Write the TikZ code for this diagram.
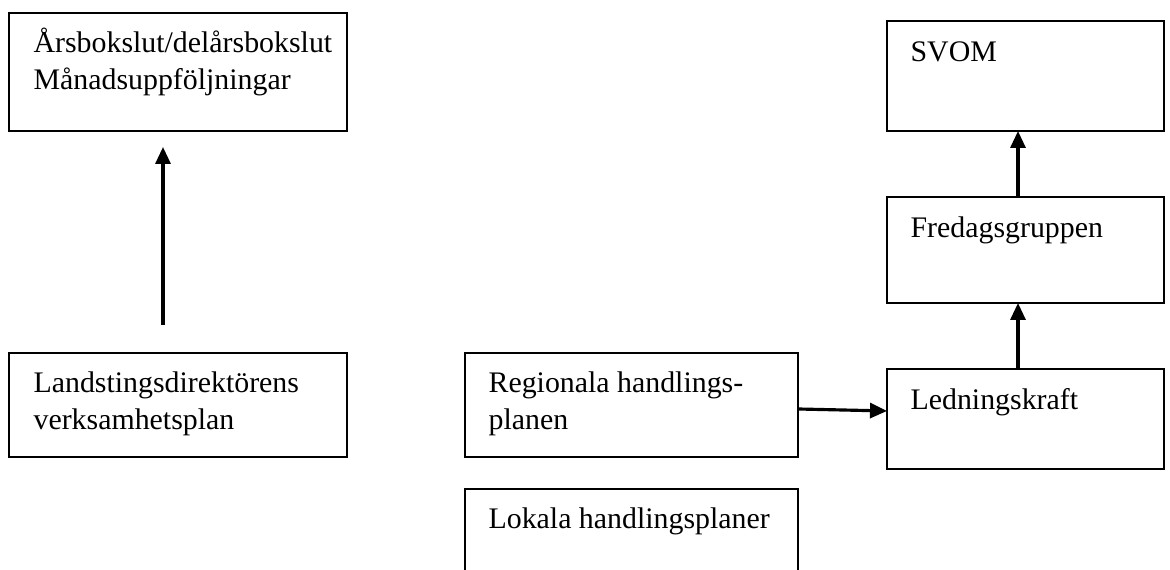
\documentclass[tikz,border=0pt]{standalone}
\usepackage{fontspec}
\setmainfont{Liberation Serif}
\usetikzlibrary{arrows.meta,calc}
\newcommand{\rader}[1]{\begin{tabular}[t]{@{}l@{}}#1\end{tabular}}
\begin{document}
\begin{tikzpicture}[x=0.02cm, y=-0.02cm, >={Triangle[length=0.34cm,width=0.3cm]}, line width=1.8pt,
	ruta/.style={draw, line width=1.3pt, inner sep=0pt, outer sep=0pt, anchor=north west},
	txt/.style={anchor=base west, inner sep=0pt, font=\fontsize{17}{20.5}\selectfont}]
	\useasboundingbox (0,0) rectangle (1170,570);
	% vänster
	\node[ruta, minimum width=6.76cm, minimum height=2.36cm] (bokslut) at (9,13) {};
	\node[ruta, minimum width=6.76cm, minimum height=2.08cm] (ldplan) at (9,353) {};
	% mitten
	\node[ruta, minimum width=6.66cm, minimum height=2.08cm] (regional) at (465,353) {};
	\node[ruta, minimum width=6.66cm, minimum height=2.22cm] (lokal) at (465,489) {};
	% höger
	\node[ruta, minimum width=5.54cm, minimum height=2.2cm] (svom) at (887,21) {};
	\node[ruta, minimum width=5.54cm, minimum height=2.12cm] (fredag) at (887,197) {};
	\node[ruta, minimum width=5.54cm, minimum height=2.0cm] (ledning) at (887,369) {};
	% texter
	\node[txt] (t1) at ($(bokslut.north west)+(23,40)$) {\rader{Årsbokslut/delårsbokslut\\Månadsuppföljningar}};
	\node[txt] (t2) at ($(ldplan.north west)+(23,40)$) {\rader{Landstingsdirektörens\\verksamhetsplan}};
	\node[txt] (t3) at ($(regional.north west)+(22,40)$) {\rader{Regionala handlings-\\planen}};
	\node[txt] (t4) at ($(lokal.north west)+(22,40)$) {Lokala handlingsplaner};
	\node[txt] (t5) at ($(svom.north west)+(22,41)$) {SVOM};
	\node[txt] (t6) at ($(fredag.north west)+(22,41)$) {Fredagsgruppen};
	\node[txt] (t7) at ($(ledning.north west)+(22,41)$) {Ledningskraft};
	% pilar
	\coordinate (px) at (163,0);
	\coordinate (qx) at (1018,0);
	\draw[->, shorten <=0.56cm, shorten >=0.32cm] (ldplan.north -| px) -- (bokslut.south -| px);
	\draw[->] (ledning.north -| qx) -- (fredag.south -| qx);
	\draw[->] (fredag.north -| qx) -- (svom.south -| qx);
	\draw[->] ($(regional.east)+(0,4)$) -- ($(ledning.west)+(0,-8)$);
\end{tikzpicture}
\end{document}
